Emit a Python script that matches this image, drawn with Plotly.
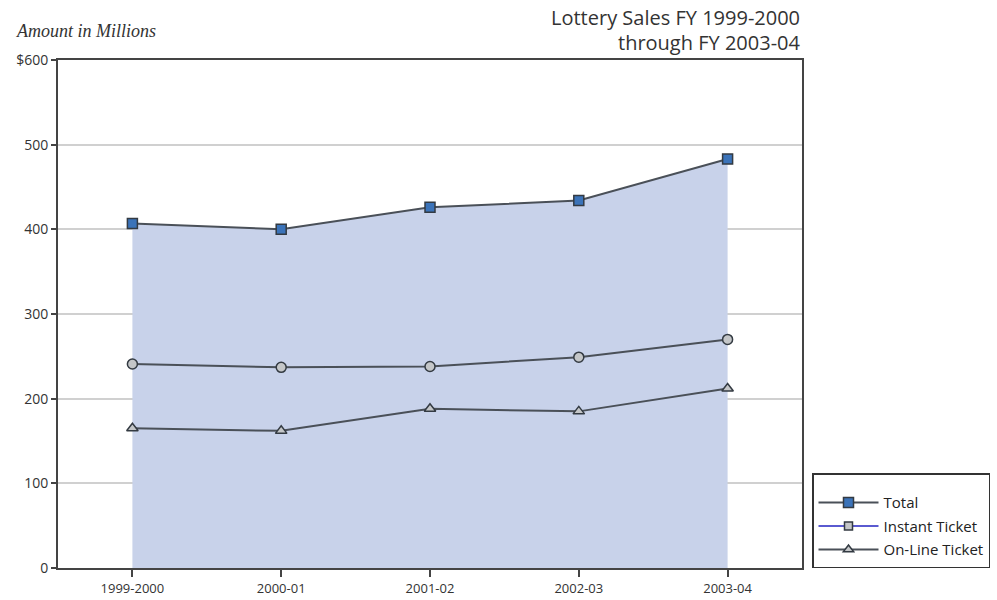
import plotly.graph_objects as go

years = ["1999-2000", "2000-01", "2001-02", "2002-03", "2003-04"]
total = [407, 400, 426, 434, 483]
instant = [241, 237, 238, 249, 270]
online = [165, 162, 188, 185, 212]
y_ticks = [0, 100, 200, 300, 400, 500, 600]
y_tick_labels = ["0", "100", "200", "300", "400", "500", "$600"]

line_col = "#4a5058"
mk_line = dict(color="#333a42", width=1.5)
fig = go.Figure()

# data traces
fig.add_trace(go.Scatter(
    x=years, y=total, name="Total", mode="lines+markers", showlegend=False,
    fill="tozeroy", fillcolor="#c8d2ea",
    line=dict(color=line_col, width=2),
    marker=dict(symbol="square", size=10, color="#3b73b9", line=mk_line),
))
fig.add_trace(go.Scatter(
    x=years, y=instant, name="Instant Ticket", mode="lines+markers", showlegend=False,
    line=dict(color=line_col, width=2),
    marker=dict(symbol="circle", size=10, color="#c4c6c8", line=mk_line),
))
fig.add_trace(go.Scatter(
    x=years, y=online, name="On-Line Ticket", mode="lines+markers", showlegend=False,
    line=dict(color=line_col, width=2),
    marker=dict(symbol="triangle-up", size=10, color="#c4c6c8", line=mk_line),
))

# legend entries (styled as in the reference's key)
fig.add_trace(go.Scatter(
    x=[None], y=[None], name="Total", mode="lines+markers", legendgroup="a",
    line=dict(color=line_col, width=2),
    marker=dict(symbol="square", size=10, color="#3b73b9", line=mk_line),
))
fig.add_trace(go.Scatter(
    x=[None], y=[None], name="Instant Ticket", mode="lines+markers", legendgroup="b",
    line=dict(color="#5a5ad0", width=2),
    marker=dict(symbol="square", size=8, color="#c4c6c8", line=mk_line),
))
fig.add_trace(go.Scatter(
    x=[None], y=[None], name="On-Line Ticket", mode="lines+markers", legendgroup="c",
    line=dict(color=line_col, width=2),
    marker=dict(symbol="triangle-up", size=9, color="#c4c6c8", line=mk_line),
))

fig.update_layout(
    width=997, height=600,
    margin=dict(l=58, r=195, t=60, b=32),
    paper_bgcolor="white", plot_bgcolor="white",
    font=dict(family="Open Sans, Noto Sans, sans-serif", size=13, color="#333333"),
    showlegend=True,
    legend=dict(
        xref="container", yref="container",
        x=812 / 997, xanchor="left", y=32 / 600, yanchor="bottom",
        bordercolor="#333333", borderwidth=1.5, bgcolor="white",
        font=dict(size=15, color="#222222"),
        title=dict(text=" ", font=dict(size=9)),
        tracegroupgap=1, itemwidth=60,
    ),
    xaxis=dict(
        type="category", range=[-0.5, 4.5], automargin=False,
        showline=True, linecolor="#444444", linewidth=2, mirror=True,
        ticks="outside", ticklen=7, tickcolor="#444444", tickwidth=1.5,
        showgrid=False, tickfont=dict(size=13, color="#333333"),
    ),
    yaxis=dict(
        range=[0, 600], tickvals=y_ticks, ticktext=y_tick_labels, automargin=False,
        showline=True, linecolor="#444444", linewidth=2, mirror=True,
        ticks="outside", ticklen=5, tickcolor="#444444", tickwidth=1.5,
        showgrid=True, gridcolor="#d0d0d0", gridwidth=1.5,
        zeroline=False, tickfont=dict(size=14, color="#333333"),
    ),
    annotations=[
        dict(text="Lottery Sales FY 1999-2000", xref="paper", yref="paper",
             x=1, y=1, xanchor="right", yanchor="middle", yshift=43, align="right",
             showarrow=False, font=dict(family="Open Sans, Noto Sans, sans-serif", size=20, color="#333333")),
        dict(text="through FY 2003-04", xref="paper", yref="paper",
             x=1, y=1, xanchor="right", yanchor="middle", yshift=18, align="right",
             showarrow=False, font=dict(family="Open Sans, Noto Sans, sans-serif", size=20, color="#333333")),
        dict(text="<i>Amount in Millions</i>", xref="paper", yref="paper",
             x=0, y=1, xanchor="left", yanchor="middle", xshift=-44, yshift=29,
             showarrow=False, font=dict(family="Liberation Serif, serif", size=18, color="#333333")),
    ],
)

fig.write_html("out.html", config={"displayModeBar": False},
               post_script="document.body.style.margin='0';")
